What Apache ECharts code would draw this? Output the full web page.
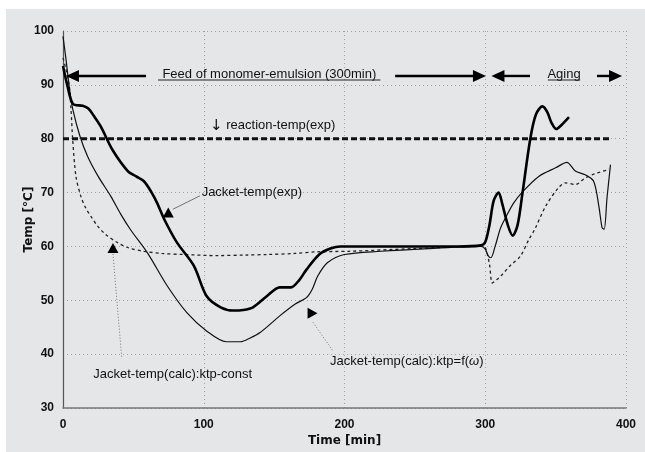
<!DOCTYPE html>
<html><head><meta charset="utf-8">
<script src="https://cdn.jsdelivr.net/npm/echarts@6/dist/echarts.min.js"></script>
<style>html,body{margin:0;padding:0;background:#fff}#c{width:645px;height:452px}</style>
</head><body><div id="c"></div>
<script>
// ---- data ----
const xTicks = [0, 100, 200, 300, 400];
const yTicks = [30, 40, 50, 60, 70, 80, 90, 100];

const expTime = [0,3,7,14,18,22,27,35,46,52,57.5,63,67,72,81,93,102,112,121,128,135,145,154,162,168,173,182,190,197,220,250,280,297,300,303,306,309.5,312,316,319.5,323,326.5,332,336,340.6,344,347,350.5,354,359.5];
const expTemp = [93.5,90,86.5,86.1,85.6,84.2,82.2,78,74,73,72.1,70,68,65,60.7,56.4,50.8,48.7,48.1,48.2,48.7,50.8,52.4,52.4,53.8,55.7,58.5,59.6,60,60,60,60,60.2,60.8,64,68.5,70,68,64,62,64,70,80,84.5,86,85,83,81.8,82.5,84];

const calcFTime = [0,2,5,7,12,17.5,25,34,41,48,60,74,88,102,116,126,133,140,154,165,173,177,181,188,200,226,260,297,300,302,304,307,311,315,320,326,338,350,358,364,371,377,380.7,383,384.5,386.5,389];
const calcFTemp = [99,95,88.5,85.4,80.5,76.7,73,69.3,66,63.1,58.8,52.7,47.7,44.3,42.3,42.3,43,44,47.1,49.3,50.5,52,54.5,57,58.5,59.1,59.6,60,59.5,58.3,57.9,60,63.5,65.6,68,70,73,74.6,75.6,74,73.3,72.1,67.5,63.5,63.2,69,75.2];

const calcCTime = [0,2,4.5,5.7,6.9,9.2,12.7,16,19.8,24.5,30,38.7,47,57.5,70,86,109.5,130,145,165,180,203,250,297,300,303,305,308,311,318,325,331,335,343,352,357,364,371,378,388];
const calcCTemp = [95,93,89.7,85.4,79.8,73,69.3,67.2,65.6,63.8,62.3,60.7,59.7,59.1,58.7,58.5,58.3,58.4,58.5,58.7,59,59.1,59.6,60,59.8,56.7,53.2,53.8,54.5,56.5,58.2,61.3,63.1,67.5,70.9,71.8,71.5,72.7,73.5,74.3];

const reactTime = [0, 388];
const reactTemp = [80, 80];

const zip = (a, b) => a.map((t, i) => [t, b[i]]);
const FONT = 'Liberation Sans, Arial, Helvetica, sans-serif';
const INK = '#111';

const chart = echarts.init(document.getElementById('c'), null, {renderer: 'canvas'});
const option = {
  backgroundColor: 'transparent',
  animation: false,
  grid: {left: 63, right: 19, top: 31, bottom: 43},
  xAxis: {
    type: 'value', min: xTicks[0], max: xTicks[xTicks.length - 1], interval: 100,
    name: 'Time [min]', nameLocation: 'middle', nameGap: 27, nameMoveOverlap: false,
    nameTextStyle: {fontFamily: 'DejaVu Sans, sans-serif', fontWeight: 'bold', fontSize: 12, color: INK},
    axisLine: {show: true, lineStyle: {color: '#777', width: 1.5}},
    axisTick: {show: false},
    axisLabel: {fontFamily: FONT, fontWeight: 'bold', fontSize: 12, color: INK, margin: 11},
    splitLine: {show: true, lineStyle: {color: '#a0a0a0', width: 1, type: [1, 3]}}
  },
  yAxis: {
    type: 'value', min: yTicks[0], max: yTicks[yTicks.length - 1], interval: 10,
    name: 'Temp [°C]', nameLocation: 'middle', nameGap: 28, nameMoveOverlap: false,
    nameTextStyle: {fontFamily: 'DejaVu Sans, sans-serif', fontWeight: 'bold', fontSize: 12, color: INK},
    axisLine: {show: true, lineStyle: {color: '#555', width: 1.2}},
    axisTick: {show: false},
    axisLabel: {fontFamily: FONT, fontWeight: 'bold', fontSize: 12, color: INK, margin: 9},
    splitLine: {show: true, lineStyle: {color: '#a0a0a0', width: 1, type: [1, 3]}}
  },
  series: [
    {name: 'reaction-temp(exp)', type: 'line', data: zip(reactTime, reactTemp), symbol: 'none',
     lineStyle: {color: '#111', width: 3, type: [6, 3]}, z: 3},
    {name: 'Jacket-temp(calc):ktp-const', type: 'line', data: zip(calcCTime, calcCTemp), symbol: 'none', smooth: 0.3,
     lineStyle: {color: '#222', width: 1.3, type: [3, 3]}, z: 4},
    {name: 'Jacket-temp(calc):ktp=f(ω)', type: 'line', data: zip(calcFTime, calcFTemp), symbol: 'none', smooth: 0.3,
     lineStyle: {color: '#111', width: 1.2}, z: 5},
    {name: 'Jacket-temp(exp)', type: 'line', data: zip(expTime, expTemp), symbol: 'none', smooth: 0.3,
     lineStyle: {color: '#000', width: 2.6}, z: 6}
  ]
};
chart.setOption(option);

const P = (t, v) => chart.convertToPixel({gridIndex: 0}, [t, v]);
const g = [];
// background panel
g.push({type: 'rect', z: -100, silent: true, shape: {x: 6, y: 9, width: 645, height: 452}, style: {fill: '#e5e6e8'}});

function arrow(t1, t2, v) { // from t1 (tail) to t2 (tip)
  const a = P(t1, v), b = P(t2, v);
  const dir = Math.sign(b[0] - a[0]);
  const hl = 13, hw = 6;
  g.push({type: 'line', z: 50, shape: {x1: a[0], y1: a[1], x2: b[0] - dir * (hl - 1), y2: b[1]}, style: {stroke: '#000', lineWidth: 2.4}});
  g.push({type: 'polygon', z: 50, shape: {points: [[b[0], b[1]], [b[0] - dir * hl, b[1] - hw], [b[0] - dir * hl, b[1] + hw]]}, style: {fill: '#000'}});
}
function text(t, v, str, align, rich) {
  const p = P(t, v);
  const el = {type: 'text', z: 50, x: p[0], y: p[1],
    style: {text: str, fill: INK, font: '13px ' + FONT, textAlign: align || 'left', textVerticalAlign: 'middle'}};
  if (rich) el.style.rich = rich;
  g.push(el);
}
function uline(t1, t2, v) {
  const a = P(t1, v), b = P(t2, v);
  g.push({type: 'line', z: 50, shape: {x1: a[0], y1: a[1], x2: b[0], y2: b[1]}, style: {stroke: '#222', lineWidth: 1}});
}
function tri(t, v, dirn) {
  const p = P(t, v); const s = 5.5;
  let pts;
  if (dirn === 'up') pts = [[p[0], p[1] - s], [p[0] - s, p[1] + s * 0.8], [p[0] + s, p[1] + s * 0.8]];
  else pts = [[p[0] + s, p[1]], [p[0] - s * 0.8, p[1] - s], [p[0] - s * 0.8, p[1] + s]];
  g.push({type: 'polygon', z: 50, shape: {points: pts}, style: {fill: '#000'}});
}
function leader(t1, v1, t2, v2, dotted) {
  const a = P(t1, v1), b = P(t2, v2);
  g.push({type: 'line', z: 49, shape: {x1: a[0], y1: a[1], x2: b[0], y2: b[1]},
    style: {stroke: '#555', lineWidth: 0.8, lineDash: dotted ? [1, 2] : null}});
}

// arrows row
const arrowV = 91.65;
arrow(59, 2.1, arrowV);
arrow(236, 300.5, arrowV);
arrow(331.8, 304.4, arrowV);
arrow(379.4, 397.2, arrowV);
text(146.6, 91.95, 'Feed of monomer-emulsion (300min)', 'center');
uline(67.5, 225.5, 90.9);
text(356, 91.95, 'Aging', 'center');
uline(344.5, 367.5, 90.9);

text(104.5, 82.4, '{a|↓} reaction-temp(exp)', 'left', {a: {fontSize: 15, fontFamily: 'DejaVu Sans, sans-serif', fill: INK}});

// Jacket-temp(exp)
text(98.5, 70, 'Jacket-temp(exp)', 'left');
leader(97.3, 69.4, 78, 66.9, false);
tri(74.8, 66.2, 'up');

// ktp-const
text(21.5, 36.3, 'Jacket-temp(calc):ktp-const', 'left');
leader(35.5, 58.6, 41.7, 39.4, true);
tri(35.5, 59.6, 'up');

// ktp=f(w)
text(189.7, 38.6, 'Jacket-temp(calc):ktp=f({w|ω})', 'left', {w: {fontStyle: 'italic', fontSize: 13, fontFamily: FONT, fill: INK}});
leader(177.6, 45.9, 191.8, 40.6, true);
tri(176.9, 47.6, 'right');

chart.setOption({graphic: g});
</script></body></html>
